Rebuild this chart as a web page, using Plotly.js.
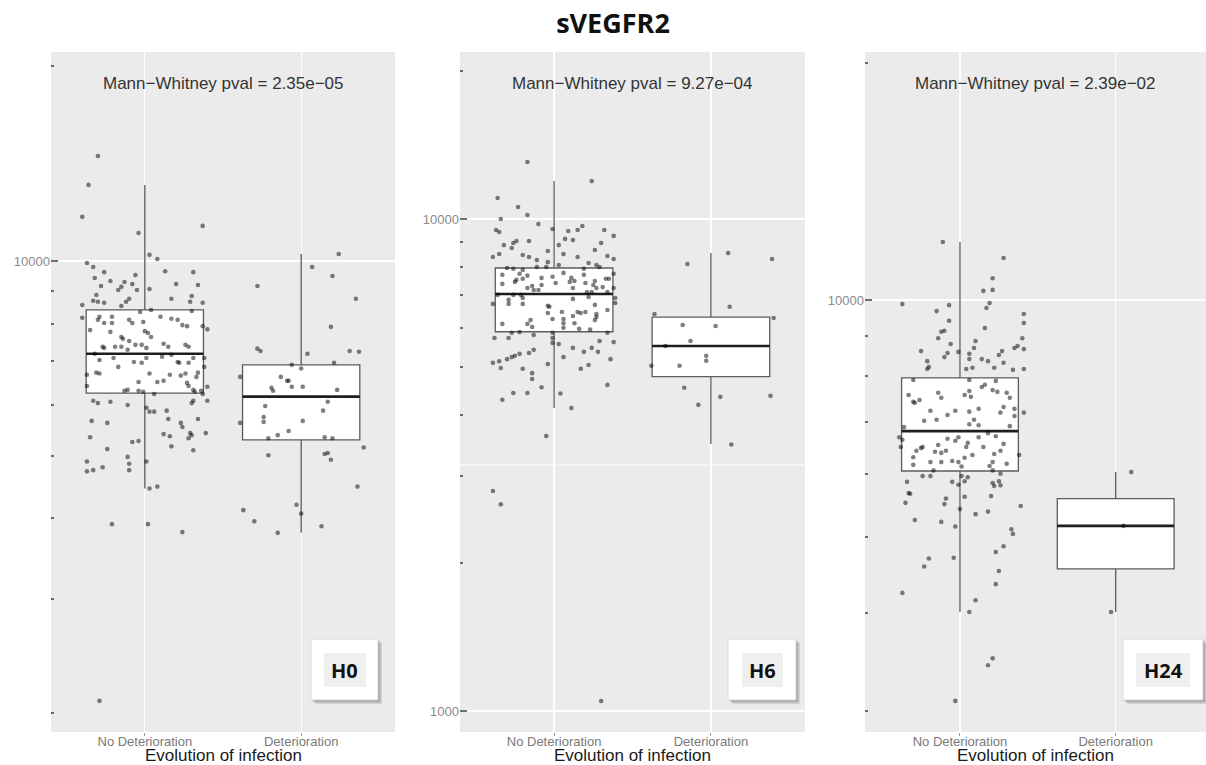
<!DOCTYPE html>
<html>
<head>
<meta charset="utf-8">
<script src="https://cdn.plot.ly/plotly-3.0.1.min.js"></script>
<style>
  html, body { margin: 0; padding: 0; background: #ffffff; }
  #chart { width: 1206px; height: 765px; }
</style>
</head>
<body>
<div id="chart"></div>
<script>
// ---------------- data ----------------
const chartTitle = 'sVEGFR2';
const categories = ['No Deterioration', 'Deterioration'];
const panelLabels = ['H0', 'H6', 'H24'];
const pvalTexts = ['2.35e\u221205', '9.27e\u221204', '2.39e\u221202'];
const xAxisTitle = 'Evolution of infection';
const yTickVals = [[10000], [1000, 10000], [10000]];
const yTickText = [['10000'], ['1000', '10000'], ['10000']];
const minorTickVals = [2000, 3000, 4000, 5000, 6000, 7000, 8000, 9000, 20000];
const h6MinorGridVal = [3162];

// box statistics  [No Deterioration, Deterioration]
const h0Lower = [4450, 3800], h0Q1 = [6250, 5290], h0Median = [7190, 6170], h0Q3 = [8400, 6910], h0Upper = [13110, 10250];
const h6Lower = [4130, 3490], h6Q1 = [5900, 4780], h6Median = [7040, 5520], h6Q3 = [7950, 6320], h6Upper = [11940, 8530];
const h24Lower = [4010, 4010], h24Q1 = [6060, 4550], h24Median = [6810, 5160], h24Q3 = [7960, 5590], h24Upper = [11850, 6040];

// individual observations (value) and horizontal jitter (category units)
const h0NoDetValues = [14530,13110,11700,11050,11330,10220,10070,9930,9790,9610,
 9640,9610,9510,9410,9310,9280,9210,9210,9180,9150,
 9120,9050,9020,9020,8860,8830,8740,8680,8650,8620,
 8650,8740,8550,8650,8620,8520,8400,8340,8370,8170,
 8200,8110,8020,8020,8200,8110,8020,8050,8200,8140,
 8110,7960,7930,7930,7840,7820,7770,7790,7740,7630,
 7630,7580,7520,7420,7340,7420,7450,7370,7420,7370,
 7340,7370,7370,7370,7290,7190,7030,7080,6980,6960,
 7080,7110,7160,6980,6960,6960,7080,7080,6860,6860,
 6720,6700,6670,6700,6670,6650,6700,6720,6620,6410,
 6500,6500,6530,6480,6410,6390,6300,6320,6300,6280,
 6320,6280,6300,6230,6080,6030,6060,5990,6230,5930,
 5850,5850,5870,6030,6080,6080,5660,5620,5700,5620,
 5540,5700,5340,5250,5270,5400,5360,5320,5420,5380,
 5420,5120,5170,5100,4980,4860,4900,4900,4750,4730,
 4750,4800,4450,4480,3920,3920,3810,2090];
const h0NoDetJitter = [-0.30,-0.36,-0.40,-0.04,0.37,0.03,0.08,-0.37,-0.33,-0.26,
 0.13,0.31,-0.06,-0.32,-0.22,-0.13,-0.08,0.20,0.34,-0.28,
 -0.15,0.03,-0.05,-0.17,-0.31,0.30,0.17,-0.33,-0.30,-0.26,
 -0.12,-0.10,-0.40,0.29,0.37,-0.15,0.04,-0.03,0.30,-0.40,
 -0.29,-0.30,-0.26,-0.21,-0.21,-0.10,-0.08,-0.01,0.10,0.17,
 0.21,0.24,0.27,0.37,0.40,-0.35,-0.22,0.00,0.02,0.04,
 -0.15,-0.14,-0.10,-0.02,0.01,-0.06,0.12,0.15,0.26,0.28,
 -0.26,-0.27,-0.19,-0.15,-0.11,-0.32,-0.29,-0.20,-0.07,-0.02,
 0.01,0.11,0.17,0.21,0.22,0.28,0.31,0.38,-0.17,0.38,
 -0.31,-0.29,-0.37,0.03,0.16,0.23,0.26,0.34,0.33,-0.37,
 -0.04,0.08,0.12,0.27,0.28,0.40,-0.13,-0.11,-0.04,-0.01,
 0.31,0.32,0.36,0.37,-0.33,-0.30,-0.22,-0.11,0.06,0.01,
 0.03,0.06,0.14,0.30,0.31,0.40,-0.34,-0.24,0.15,0.23,
 0.24,0.34,-0.35,-0.08,-0.04,0.12,0.16,0.28,0.29,0.30,
 0.39,-0.24,0.17,0.31,-0.11,-0.10,0.01,-0.37,-0.10,-0.37,
 -0.33,-0.27,0.03,0.08,-0.21,0.02,0.24,-0.29];
const h0DetValues = [10250,9790,9480,9150,8740,7910,7320,7260,7190,7260,
 7240,6960,6910,6820,6620,6620,6530,6530,6370,6300,
 6390,6390,6320,6060,5970,5870,5740,5640,5620,5660,
 5460,5380,5320,5340,5320,5150,5010,5030,5050,4930,
 4480,4120,4200,3960,4070,3800,3890];
const h0DetJitter = [0.24,0.07,0.20,-0.28,0.35,0.19,-0.28,-0.26,0.04,0.31,
 0.37,0.21,-0.06,0.00,-0.39,-0.13,-0.09,-0.08,-0.19,-0.18,
 -0.06,0.01,0.23,0.17,-0.23,0.14,-0.24,-0.24,-0.39,0.01,
 -0.08,-0.15,-0.21,0.15,0.20,0.40,-0.21,0.15,0.17,0.19,
 0.36,-0.37,-0.03,-0.30,0.00,-0.15,0.13];

const h6NoDetValues = [13060,11940,11030,10580,10190,10000,9770,9680,9540,9500,
 9410,9450,9500,9500,9240,9020,8940,9020,9110,9060,
 8850,8730,8850,8940,8610,8650,8370,8490,8450,8370,
 8490,8370,8410,8290,8250,8170,8140,8060,7990,7950,
 7920,7880,7990,7990,8060,7920,7700,7740,7670,7630,
 7770,7590,7700,7560,7740,7450,7520,7560,7590,7410,
 7450,7480,7410,7480,7560,7380,7310,7340,7240,7340,
 7240,7270,7240,7170,7170,7240,7100,7100,7100,7010,
 7010,7010,6850,6910,6720,6720,6720,6880,6940,6690,
 6910,6750,6660,6630,6440,6470,6470,6440,6470,6530,
 6410,6320,6230,6260,6260,6140,6350,6140,6230,6120,
 6120,6030,6010,5980,5960,5890,5870,5810,5870,5730,
 5730,5870,5730,5600,5570,5650,5620,5470,5420,5470,
 5370,5370,5340,5320,5270,5240,5190,5100,5140,4980,
 5240,5190,5070,4960,4960,5050,4860,4730,4550,4600,
 4430,4430,4420,4290,4130,3620,2800,2630,1048];
const h6NoDetJitter = [-0.17,0.24,-0.36,-0.23,-0.17,-0.34,-0.10,0.18,-0.01,-0.37,
 -0.35,0.09,0.15,0.32,0.38,-0.24,-0.26,-0.16,0.07,0.12,
 -0.32,-0.27,0.03,0.30,-0.04,0.26,-0.39,-0.35,-0.20,-0.16,
 0.06,0.15,0.34,0.38,-0.11,-0.04,0.22,0.27,0.29,-0.30,
 -0.26,-0.20,-0.11,-0.05,0.03,0.19,-0.33,-0.22,-0.17,-0.01,
 0.06,0.11,0.19,0.35,0.38,-0.25,-0.24,-0.20,-0.08,0.01,
 0.10,0.13,0.20,0.26,0.33,-0.33,-0.14,-0.08,0.12,0.25,
 0.27,0.31,0.38,-0.13,-0.10,-0.17,0.21,0.24,0.34,-0.36,
 -0.26,-0.21,-0.29,-0.20,-0.39,-0.29,-0.20,0.12,0.22,0.26,
 0.39,0.39,-0.04,-0.03,-0.04,0.05,0.15,0.17,0.20,0.34,
 0.27,0.27,0.26,-0.01,0.06,0.06,0.12,0.13,-0.15,-0.33,
 -0.17,-0.14,0.06,0.16,0.23,-0.22,-0.27,-0.13,0.34,-0.38,
 -0.29,-0.01,-0.01,-0.01,0.03,0.29,0.38,0.12,-0.13,0.24,
 0.19,0.28,-0.16,-0.22,-0.25,-0.27,-0.30,-0.39,-0.35,-0.34,
 0.06,0.36,-0.04,-0.20,0.17,0.22,-0.14,-0.14,-0.08,0.34,
 -0.26,-0.17,0.04,-0.33,0.11,-0.05,-0.39,-0.34,0.30];
const h6DetValues = [8530,8290,8100,6630,6410,6290,6090,6060,5650,5520,
 5270,5150,5030,5030,4540,4350,4370,4190,3480];
const h6DetJitter = [0.11,0.39,-0.15,0.12,-0.36,0.40,-0.18,0.03,-0.13,-0.29,
 -0.03,-0.03,-0.38,-0.20,-0.17,0.06,0.38,-0.08,0.13];

const h24NoDetValues = [11850,11310,10660,10270,10300,9880,9680,9850,9910,9770,
 9600,9350,9410,9210,9110,9140,8940,8940,8870,8790,
 8690,8690,8740,8660,8610,8560,8460,8590,8540,8410,
 8610,8510,8360,8410,8360,8320,8220,8170,8170,8200,
 8200,8150,8170,7910,7910,7890,7750,7800,7680,7640,
 7660,7620,7570,7570,7530,7620,7510,7510,7460,7420,
 7400,7310,7270,7230,7230,7210,7270,7190,7120,7190,
 7140,7020,7040,7040,6950,6930,6910,6890,6690,6640,
 6500,6710,6770,6690,6660,6540,6620,6690,6580,6500,
 6500,6560,6500,6480,6430,6410,6390,6430,6430,6370,
 6350,6300,6310,6240,6220,6220,6220,6220,6150,6350,
 6190,6170,6140,6070,5970,5970,5970,5950,6010,6070,
 5870,5870,5880,5820,5850,5800,5880,5810,5680,5670,
 5620,5590,5630,5520,5500,5420,5470,5340,5380,5250,
 5220,5150,5110,5040,4860,4780,4690,4700,4580,4520,
 4350,4240,4150,4010,3500,3430,3090];
const h24NoDetJitter = [-0.11,0.28,0.21,0.15,0.21,-0.37,-0.15,-0.07,0.19,0.17,
 0.41,0.41,-0.07,0.16,-0.12,-0.10,-0.14,0.40,0.10,-0.06,
 0.09,0.35,0.37,0.41,-0.25,-0.08,-0.10,-0.01,0.06,0.06,
 0.27,0.25,-0.21,0.14,0.18,0.28,-0.20,-0.21,0.04,0.08,
 0.22,0.34,0.41,-0.30,0.06,0.23,0.14,0.16,0.21,0.24,
 0.06,-0.14,-0.33,0.03,0.07,0.30,0.32,-0.12,-0.26,-0.30,
 -0.29,0.28,0.35,-0.19,-0.03,0.06,0.12,0.26,0.35,0.41,
 -0.08,-0.23,-0.15,0.09,0.06,0.12,0.32,-0.36,-0.39,-0.37,
 -0.38,0.23,0.18,0.12,-0.08,-0.14,-0.03,-0.01,0.05,0.04,
 0.15,0.28,-0.24,-0.25,-0.28,-0.16,-0.12,-0.09,0.26,0.22,
 0.08,0.03,-0.30,-0.05,-0.01,-0.12,-0.19,0.21,0.19,0.38,
 0.30,-0.30,0.01,-0.17,-0.19,-0.24,0.01,0.05,0.26,0.21,
 -0.34,-0.05,0.03,-0.01,0.21,0.22,0.25,0.26,-0.33,-0.32,
 0.03,-0.09,0.20,-0.35,-0.10,0.00,0.39,0.10,0.18,-0.29,
 -0.12,-0.03,0.33,0.34,0.28,0.23,-0.20,-0.04,-0.23,0.25,
 0.23,-0.37,0.10,0.06,0.21,0.18,-0.03];
const h24DetValues = [6040, 5160, 4010];
const h24DetJitter = [0.10, 0.05, -0.03];

// ---------------- build ----------------
const panelStats = [
  {lower: h0Lower, q1: h0Q1, median: h0Median, q3: h0Q3, upper: h0Upper,
   groups: [[h0NoDetValues, h0NoDetJitter], [h0DetValues, h0DetJitter]]},
  {lower: h6Lower, q1: h6Q1, median: h6Median, q3: h6Q3, upper: h6Upper,
   groups: [[h6NoDetValues, h6NoDetJitter], [h6DetValues, h6DetJitter]]},
  {lower: h24Lower, q1: h24Q1, median: h24Median, q3: h24Q3, upper: h24Upper,
   groups: [[h24NoDetValues, h24NoDetJitter], [h24DetValues, h24DetJitter]]}
];

const W = 1206, H = 765;
const px = v => v / W;
const py = v => 1 - v / H;

const xDomains = [[px(51), px(395)], [px(460), px(805)], [px(865), 1]];
const xRanges = [[0.4, 2.6], [0.4, 2.6], [0.39, 2.58]];
const yRanges = [[3.272, 4.323], [2.9573, 4.3394], [3.4504, 4.3155]];
const yDomain = [py(732), py(52)];
const catPos = [1, 2];

const traces = [];
const layout = {
  width: W, height: H,
  margin: {l: 0, r: 0, t: 0, b: 0},
  paper_bgcolor: '#ffffff',
  plot_bgcolor: '#EBEBEB',
  showlegend: false,
  boxmode: 'overlay',
  font: {family: 'Liberation Sans, Arial, sans-serif'},
  title: {
    text: '<b>' + chartTitle + '</b>',
    x: px(613), xanchor: 'center', xref: 'paper',
    y: py(24), yanchor: 'middle',
    font: {family: 'Open Sans, sans-serif', size: 27, color: '#111111'}
  },
  annotations: [],
  shapes: []
};

panelStats.forEach((p, i) => {
  const xs = i === 0 ? '' : String(i + 1);
  const xa = 'x' + xs, ya = 'y' + xs;

  traces.push({
    type: 'box', xaxis: xa, yaxis: ya,
    x: catPos, q1: p.q1, median: p.median, q3: p.q3,
    lowerfence: p.lower, upperfence: p.upper,
    width: 0.75, whiskerwidth: 0, boxpoints: false,
    fillcolor: '#FFFFFF', line: {color: '#5c5c5c', width: 1.3},
    hoverinfo: 'skip', showlegend: false
  });
  traces.push({
    type: 'box', xaxis: xa, yaxis: ya,
    x: catPos, q1: p.median, median: p.median, q3: p.median,
    lowerfence: p.median, upperfence: p.median,
    width: 0.75, whiskerwidth: 0, boxpoints: false,
    fillcolor: 'rgba(0,0,0,0)', line: {color: '#1e1e1e', width: 2.6},
    hoverinfo: 'skip', showlegend: false
  });
  p.groups.forEach((g, c) => {
    const vals = g[0], jit = g[1];
    traces.push({
      type: 'scatter', mode: 'markers', xaxis: xa, yaxis: ya,
      x: vals.map((v, k) => catPos[c] + jit[k]),
      y: vals,
      marker: {size: 4.6, color: 'rgba(0,0,0,0.5)', line: {width: 0}},
      hoverinfo: 'skip', showlegend: false
    });
  });

  layout['xaxis' + xs] = {
    domain: xDomains[i], anchor: ya, range: xRanges[i],
    tickmode: 'array', tickvals: catPos, ticktext: categories,
    ticks: '', ticklen: 0,
    showgrid: true, gridcolor: '#FFFFFF', gridwidth: 1.2,
    zeroline: false, showline: false, fixedrange: true,
    tickfont: {family: 'Liberation Sans, Arial, sans-serif', size: 13, color: '#7a7a7a'},
    minor: {
      tickmode: 'array', tickvals: catPos,
      ticks: 'outside', ticklen: 3, tickwidth: 1, tickcolor: '#9a9a9a',
      showgrid: false
    }
  };
  layout['yaxis' + xs] = {
    domain: yDomain, anchor: xa, type: 'log', range: yRanges[i],
    tickmode: 'array', tickvals: yTickVals[i], ticktext: yTickText[i],
    ticks: 'inside', ticklen: 7, tickwidth: 1.5, tickcolor: '#707070',
    showgrid: true, gridcolor: '#FFFFFF', gridwidth: 1.2,
    zeroline: false, showline: false, fixedrange: true,
    tickfont: {family: 'Liberation Sans, Arial, sans-serif', size: 13, color: '#8a8a8a'},
    minor: {
      tickmode: 'array', tickvals: minorTickVals,
      ticks: 'inside', ticklen: 3, tickwidth: 2, tickcolor: '#6a6a6a',
      showgrid: false
    }
  };

  // p-value annotation
  layout.annotations.push({
    xref: xa + ' domain', x: 0.5, yref: 'paper', y: py(83),
    xanchor: 'center', yanchor: 'middle', showarrow: false,
    text: 'Mann\u2212Whitney pval = ' + pvalTexts[i],
    font: {family: 'Liberation Sans, Arial, sans-serif', size: 17, color: '#333333'}
  });
  // x axis title
  layout.annotations.push({
    xref: xa + ' domain', x: 0.5, yref: 'paper', y: py(755),
    xanchor: 'center', yanchor: 'middle', showarrow: false,
    text: xAxisTitle,
    font: {family: 'Liberation Sans, Arial, sans-serif', size: 17, color: '#1a1a1a'}
  });
});

// minor grid line of the H6 panel (between 1000 and 10000)
layout.shapes.push({
  type: 'line', layer: 'below',
  xref: 'x2 domain', x0: 0, x1: 1, yref: 'y2', y0: h6MinorGridVal[0], y1: h6MinorGridVal[0],
  line: {color: '#FFFFFF', width: 1.2}
});

// time-point label boxes
const labelBoxes = [
  {outer: [311, 639, 378, 700], inner: [324, 653, 366, 687]},
  {outer: [728, 639, 796, 700], inner: [742, 653, 783, 687]},
  {outer: [1123, 639, 1203, 700], inner: [1136, 653, 1190, 687]}
];
labelBoxes.forEach((b, i) => {
  const o = b.outer, n = b.inner;
  [[4, 'rgba(0,0,0,0.10)'], [2.5, 'rgba(0,0,0,0.14)'], [1.2, 'rgba(0,0,0,0.18)']].forEach(s => {
    layout.shapes.push({
      type: 'rect', xref: 'paper', yref: 'paper', layer: 'above',
      x0: px(o[0] + s[0]), x1: px(o[2] + s[0]), y0: py(o[3] + s[0]), y1: py(o[1] + s[0]),
      fillcolor: s[1], line: {width: 0}
    });
  });
  layout.shapes.push({
    type: 'rect', xref: 'paper', yref: 'paper', layer: 'above',
    x0: px(o[0]), x1: px(o[2]), y0: py(o[3]), y1: py(o[1]),
    fillcolor: '#FFFFFF', line: {color: '#d8d8d8', width: 1}
  });
  layout.shapes.push({
    type: 'rect', xref: 'paper', yref: 'paper', layer: 'above',
    x0: px(n[0]), x1: px(n[2]), y0: py(n[3]), y1: py(n[1]),
    fillcolor: '#EFEFEF', line: {width: 0}
  });
  layout.annotations.push({
    xref: 'paper', yref: 'paper', x: px((n[0] + n[2]) / 2), y: py((n[1] + n[3]) / 2),
    xanchor: 'center', yanchor: 'middle', showarrow: false,
    text: '<b>' + panelLabels[i] + '</b>',
    font: {family: 'Open Sans, sans-serif', size: 20, color: '#111111'}
  });
});

Plotly.newPlot('chart', traces, layout, {staticPlot: true, displayModeBar: false});
</script>
</body>
</html>
